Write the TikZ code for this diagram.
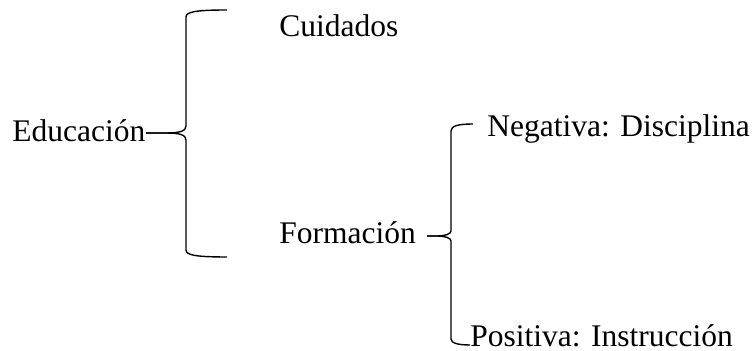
\documentclass[tikz,border=0pt]{standalone}
\usepackage{fontspec}
\setmainfont{Liberation Serif}
\usepackage{tikz}

\begin{document}
\begin{tikzpicture}[x=0.5pt,y=-0.5pt,
	txt/.style={anchor=base west,inner sep=0pt,font=\fontsize{15.75}{19}\selectfont},
	brace/.style={line width=0.7pt}]
\useasboundingbox (0,0) rectangle (752,351);
\node [txt] (edu) at (12,142) {Educación};
\node [txt] (cui) at (279,37) {Cuidados};
\node [txt] (for) at (279,244) {Formación};
\node [txt] (neg) at (487,137) {Negativa: Disciplina};
\node [txt] (pos) at (470,347) {Positiva: Instrucción};
% brace ends
\coordinate (edutip) at (146,133);
\coordinate (cuiarm) at (227,10);
\coordinate (forarm) at (227,257);
\coordinate (fortip) at (427,236);
\coordinate (negarm) at (473,124);
\coordinate (posarm) at (470,345);
% first brace
\draw [brace] (edutip) -- (166,133) .. controls (180,133) and (186,131) .. (186,126)
	-- (186,17) .. controls (186,12) and (195,10) .. (cuiarm);
\draw [brace] (edutip) -- (166,133) .. controls (180,133) and (186,135) .. (186,140)
	-- (186,250) .. controls (186,255) and (195,257) .. (forarm);
% second brace
\draw [brace] (fortip) -- (437,236) .. controls (445,236) and (451,234) .. (451,231)
	-- (451,131) .. controls (451,126) and (458,124) .. (negarm);
\draw [brace] (fortip) -- (437,236) .. controls (445,236) and (451,238) .. (451,241)
	-- (451,339) .. controls (451,343) and (458,345) .. (posarm);
\end{tikzpicture}
\end{document}
